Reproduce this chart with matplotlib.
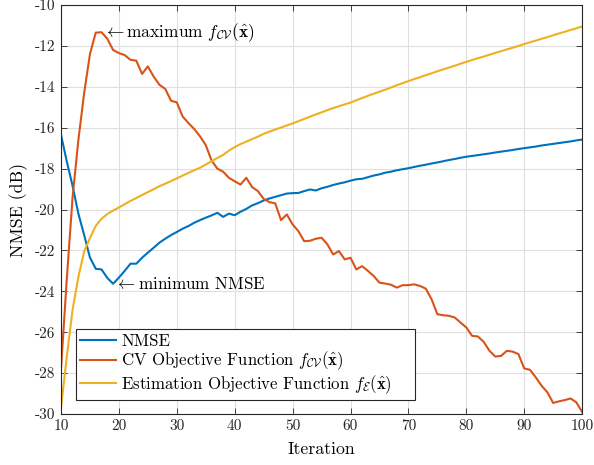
import matplotlib
matplotlib.use("Agg")
import matplotlib.pyplot as plt

plt.rcParams["font.family"] = ["cmr10", "DejaVu Serif"]
plt.rcParams["mathtext.fontset"] = "cm"
plt.rcParams["axes.unicode_minus"] = False

iterations = list(range(10, 101))

nmse = [
    -16.35, -17.65, -18.85, -20.2, -21.25, -22.35, -22.9, -22.93, -23.35, -23.63,
    -23.33, -23.0, -22.65, -22.65, -22.36, -22.11, -21.87, -21.62, -21.43, -21.25,
    -21.1, -20.94, -20.81, -20.65, -20.52, -20.4, -20.29, -20.16, -20.36, -20.2,
    -20.28, -20.11, -19.97, -19.8, -19.69, -19.56, -19.46, -19.38, -19.3, -19.22,
    -19.2, -19.19, -19.1, -19.02, -19.07, -18.96, -18.89, -18.8, -18.73, -18.67,
    -18.59, -18.52, -18.5, -18.42, -18.34, -18.28, -18.2, -18.15, -18.08, -18.03,
    -17.98, -17.92, -17.86, -17.81, -17.75, -17.7, -17.64, -17.58, -17.53, -17.47,
    -17.42, -17.38, -17.34, -17.3, -17.26, -17.21, -17.17, -17.13, -17.09, -17.04,
    -17.0, -16.96, -16.92, -16.87, -16.83, -16.79, -16.75, -16.71, -16.67, -16.62,
    -16.58,
]

cv_objective = [
    -27.8, -23.4, -19.4, -16.6, -14.3, -12.4, -11.35, -11.33, -11.65, -12.2,
    -12.35, -12.45, -12.68, -12.72, -13.37, -13.0, -13.5, -13.9, -14.1, -14.68,
    -14.76, -15.45, -15.77, -16.06, -16.42, -16.85, -17.6, -18.0, -18.15, -18.45,
    -18.62, -18.78, -18.45, -18.9, -19.1, -19.48, -19.64, -19.7, -20.52, -20.24,
    -20.73, -21.06, -21.55, -21.53, -21.43, -21.38, -21.7, -22.2, -22.03, -22.44,
    -22.36, -22.93, -22.77, -23.0, -23.25, -23.58, -23.62, -23.68, -23.82, -23.7,
    -23.7, -23.66, -23.74, -23.87, -24.39, -25.12, -25.17, -25.2, -25.28, -25.53,
    -25.77, -26.18, -26.21, -26.47, -26.91, -27.19, -27.16, -26.91, -26.95, -27.07,
    -27.77, -27.84, -28.21, -28.62, -28.94, -29.46, -29.38, -29.32, -29.24, -29.43,
    -29.9,
]

est_objective = [
    -29.7, -27.2, -24.9, -23.3, -22.05, -21.4, -20.8, -20.45, -20.22, -20.05,
    -19.9, -19.74, -19.58, -19.44, -19.29, -19.15, -19.01, -18.86, -18.74, -18.61,
    -18.48, -18.34, -18.21, -18.08, -17.96, -17.8, -17.64, -17.48, -17.33, -17.12,
    -16.95, -16.8, -16.68, -16.56, -16.44, -16.3, -16.19, -16.09, -15.99, -15.89,
    -15.79, -15.68, -15.57, -15.46, -15.35, -15.25, -15.14, -15.04, -14.95, -14.86,
    -14.77, -14.66, -14.55, -14.44, -14.34, -14.24, -14.14, -14.03, -13.92, -13.82,
    -13.72, -13.62, -13.53, -13.43, -13.34, -13.24, -13.15, -13.06, -12.97, -12.87,
    -12.78, -12.69, -12.6, -12.52, -12.43, -12.34, -12.26, -12.17, -12.09, -12.0,
    -11.91, -11.82, -11.74, -11.65, -11.57, -11.48, -11.39, -11.31, -11.22, -11.14,
    -11.05,
]

xticks = list(range(10, 101, 10))
yticks = list(range(-30, -9, 2))

fig = plt.figure(figsize=(5.94, 4.65), dpi=100)
ax = fig.add_axes([0.1027, 0.1097, 0.8773, 0.8795])

ax.plot(iterations, nmse, color="#0072BD", lw=1.5, label="NMSE")
ax.plot(iterations, cv_objective, color="#D95319", lw=1.5,
        label=r"CV Objective Function $f_{\mathcal{CV}}(\hat{\mathbf{x}})$")
# trailing spaces give the wider right margin of the original legend box
ax.plot(iterations, est_objective, color="#EDB120", lw=1.5,
        label=r"Estimation Objective Function $f_{\mathcal{E}}(\hat{\mathbf{x}})$" + "    ")

# annotations at the extremes
i_max = cv_objective.index(max(cv_objective))
ax.text(iterations[i_max] + 0.3, cv_objective[i_max],
        r"$\leftarrow$maximum $f_{\mathcal{CV}}(\hat{\mathbf{x}})$",
        fontsize=12.5, va="center", ha="left")
i_min = nmse.index(min(nmse))
ax.text(iterations[i_min] + 0.4, nmse[i_min],
        r"$\leftarrow$minimum NMSE", fontsize=12.3, va="center", ha="left")

ax.set_xlim(10, 100)
ax.set_ylim(-30, -10)
ax.set_xticks(xticks)
ax.set_xticklabels([str(t) for t in xticks])
ax.set_yticks(yticks)
ax.set_yticklabels([str(t) for t in yticks])
ax.tick_params(direction="in", top=True, right=True, length=4, width=0.6,
               labelsize=11, colors="#262626", pad=4)
ax.grid(True, color="#DFDFDF", lw=0.8)
ax.set_axisbelow(True)
for s in ax.spines.values():
    s.set_color("#262626")
    s.set_linewidth(0.8)

ax.set_xlabel("Iteration", fontsize=12.8, labelpad=6)
ax.set_ylabel("NMSE (dB)", fontsize=12.8, labelpad=5)

leg = ax.legend(loc="lower left", bbox_to_anchor=(0.029, 0.034), fontsize=12.1,
                handlelength=2.1, handletextpad=0.35, borderpad=0.25,
                labelspacing=0.05, fancybox=False, framealpha=1,
                borderaxespad=0)
leg.get_frame().set_edgecolor("#262626")
leg.get_frame().set_linewidth(0.8)

fig.savefig("out.png", dpi=100)
